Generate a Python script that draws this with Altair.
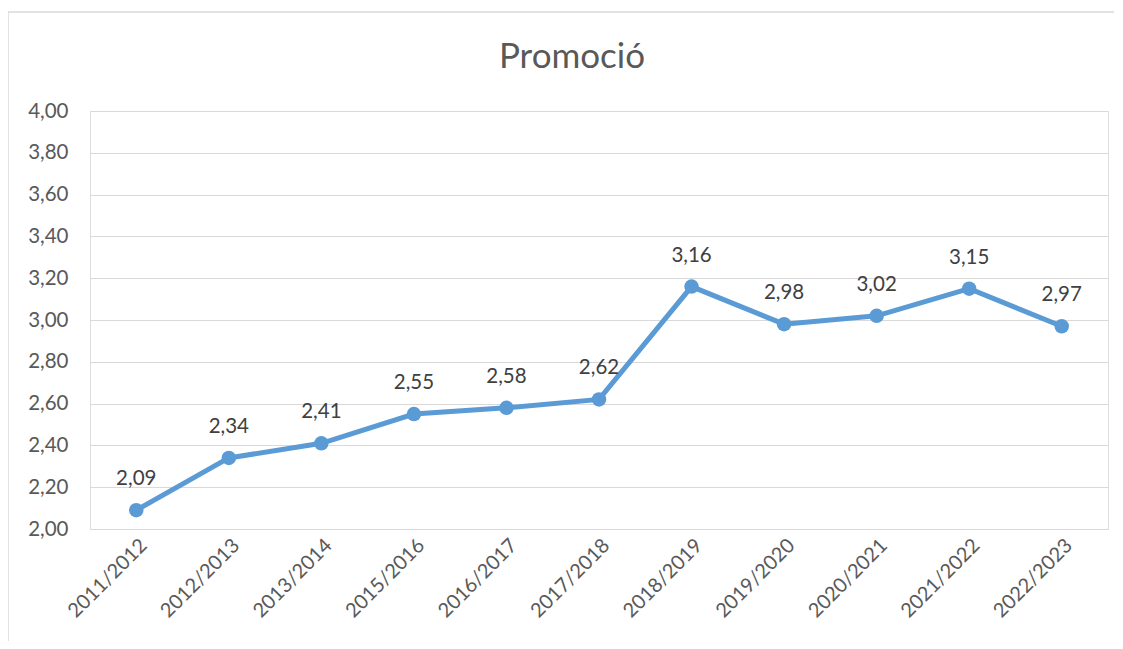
import altair as alt
import pandas as pd

categories = ["2011/2012", "2012/2013", "2013/2014", "2015/2016", "2016/2017",
              "2017/2018", "2018/2019", "2019/2020", "2020/2021", "2021/2022", "2022/2023"]
values = [2.09, 2.34, 2.41, 2.55, 2.58, 2.62, 3.16, 2.98, 3.02, 3.15, 2.97]
y_ticks = [2.0, 2.2, 2.4, 2.6, 2.8, 3.0, 3.2, 3.4, 3.6, 3.8, 4.0]
title_text = "Promoció"

df = pd.DataFrame({"curs": categories, "valor": values})

FONT = "Lato"
GREY = "#595959"
BLUE = "#5B9BD5"

x_enc = alt.X("curs:N", sort=categories, title=None,
              scale=alt.Scale(paddingInner=0, paddingOuter=0.5),
              axis=alt.Axis(labelAngle=-45, labelAlign="right", labelBaseline="top",
                            labelPadding=6, labelFontSize=20, labelColor=GREY,
                            labelFont=FONT, ticks=False, domain=False, grid=False))
y_enc = alt.Y("valor:Q", title=None,
              scale=alt.Scale(domain=[2.0, 4.0], nice=False, zero=False),
              axis=alt.Axis(values=y_ticks, labelExpr="replace(format(datum.value, '.2f'), '.', ',')",
                            labelFontSize=20.5, labelColor=GREY, labelFont=FONT, labelPadding=22,
                            ticks=False, domain=False, grid=True, gridColor="#d9d9d9",
                            gridWidth=1.2))

base = alt.Chart(df).encode(x=x_enc, y=y_enc)

line = base.mark_line(color=BLUE, strokeWidth=5)
points = base.mark_point(filled=True, color=BLUE, size=210, opacity=1)
labels = base.transform_calculate(
    lbl="replace(format(datum.valor, '.2f'), '.', ',')"
).mark_text(dy=-31, fontSize=20.5, font=FONT, color="#404040").encode(text="lbl:N")

one = alt.Data(values=[{"t": title_text}])
border = alt.Chart(one).mark_rect(
    fill=None, stroke="#d9d9d9", strokeWidth=1.5
).encode(x=alt.value(-82), x2=alt.value(1060), y=alt.value(-99), y2=alt.value(620))
title = alt.Chart(one).mark_text(
    fontSize=35, font=FONT, color=GREY, baseline="alphabetic", align="center"
).encode(x=alt.value(482), y=alt.value(-43), text="t:N")

chart = alt.layer(border, title, line, points, labels).properties(
    width=1018, height=418,
    autosize=alt.AutoSizeParams(type="none"),
    padding={"left": 82, "top": 103, "right": 6, "bottom": 112},
).configure_view(stroke=None).configure(background="white")

chart.save("out.html", embed_options={"renderer": "svg", "actions": False})
